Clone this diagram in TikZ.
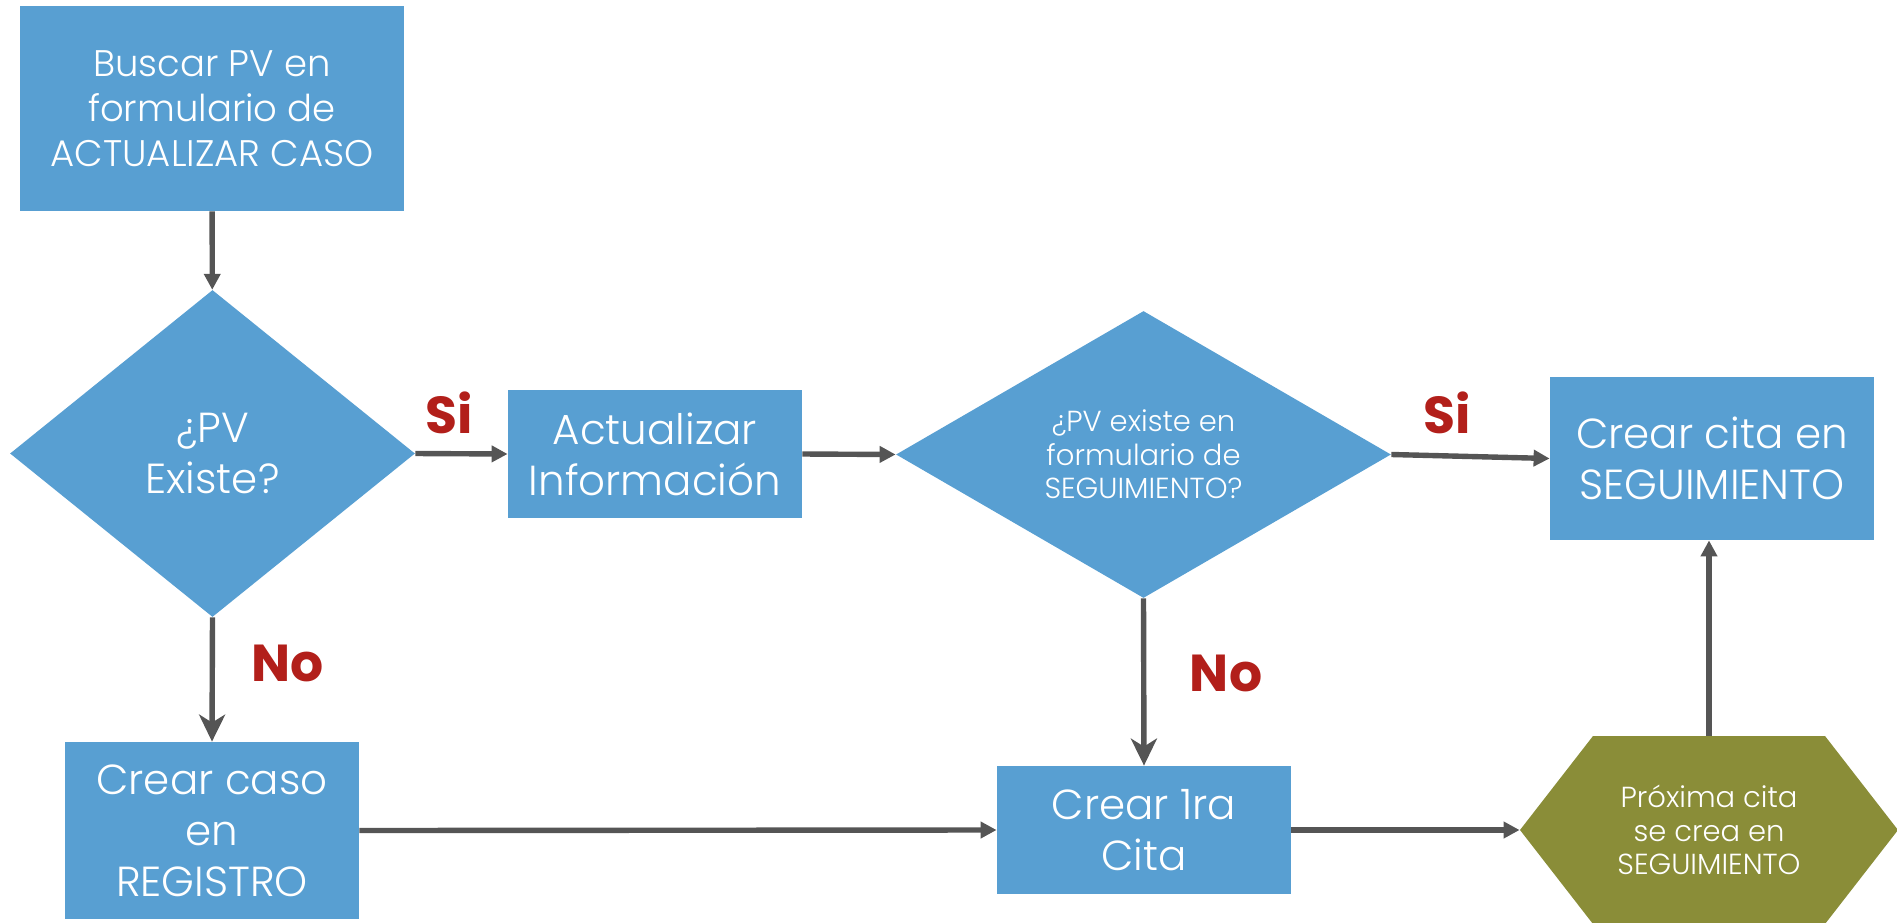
\documentclass[tikz,border=0pt]{standalone}
\usepackage{fontspec}
\newfontfamily\lblfont{Poppins}
\IfFontExistsTF{Poppins Light}{\setmainfont{Poppins Light}}{\setmainfont{Poppins}}
\usetikzlibrary{shapes.geometric,arrows.meta}
\definecolor{boxblue}{RGB}{88,159,210}
\definecolor{olive}{RGB}{138,141,56}
\definecolor{lblred}{RGB}{178,31,26}
\definecolor{arrgray}{RGB}{85,85,85}
\tikzset{
  blue box/.style={rectangle, fill=boxblue, text=white, align=center, inner sep=0pt},
  big text/.style={font=\fontsize{21}{25.5}\selectfont},
  mid text/.style={font=\fontsize{18.5}{22.5}\selectfont},
  small text/.style={font=\fontsize{14.5}{16.8}\selectfont},
  dec/.style={shape=diamond, fill=boxblue, text=white, align=center, inner sep=0pt},
  lbl/.style={text=lblred, font=\fontsize{26}{30}\selectfont\lblfont\bfseries},
  conn/.style={draw=arrgray, line width=2.7pt, -{Triangle[length=8pt,width=8pt]}},
  noconn/.style={draw=arrgray, line width=2.7pt, -{Stealth[length=13.5pt,width=13pt,inset=4pt]}}
}
\begin{document}
\begin{tikzpicture}[x=0.5pt,y=-0.5pt]
\useasboundingbox (0,0) rectangle (1897,922);
% nodes
\node[blue box, mid text, minimum width=192pt, minimum height=102.5pt] (b1) at (212,108.5)
  {Buscar PV en\\formulario de\\ACTUALIZAR CASO};
\node[dec, big text, aspect=1.24, minimum width=202.5pt, minimum height=163.5pt] (d1) at (212.5,453.5)
  {¿PV\\Existe?};
\node[blue box, big text, minimum width=147pt, minimum height=64pt] (b2) at (655,454)
  {Actualizar\\Información};
\node[dec, small text, aspect=1.72, minimum width=247.5pt, minimum height=143.5pt] (d2) at (1143.5,454.5)
  {¿PV existe en\\formulario de\\SEGUIMIENTO?};
\node[blue box, big text, minimum width=162pt, minimum height=81.5pt] (b3) at (1712,458.5)
  {Crear cita en\\SEGUIMIENTO};
\node[blue box, big text, minimum width=147pt, minimum height=88.5pt] (b4) at (212,830.5)
  {Crear caso\\en\\REGISTRO};
\node[blue box, big text, minimum width=147pt, minimum height=64pt] (b5) at (1144,830)
  {Crear 1ra\\Cita};
% hexagon
\fill[olive] (1520,830) -- (1593,736) -- (1825,736) -- (1898,830) -- (1825,924) -- (1593,924) -- cycle;
\node[text=white, small text, align=center, inner sep=0pt, minimum width=189pt, minimum height=94pt] (hx) at (1709,830)
  {Próxima cita\\se crea en\\SEGUIMIENTO};
% labels
\node[lbl] (s1) at (449,413) {Si};
\node[lbl] (s2) at (1447,413) {Si};
\node[lbl] (n1) at (288,663) {No};
\node[lbl] (n2) at (1226,673) {No};
% connectors
\draw[conn] (b1) -- (d1);
\draw[conn] (d1.east) -- (b2.west);
\draw[conn] (b2.east) -- (d2.west);
\draw[conn] (d2.east) -- (b3.west);
\draw[noconn] (d1.south) -- (b4.north);
\draw[noconn] (d2.south) -- (b5.north);
\draw[conn] (b4.east) -- (b5.west);
\draw[conn] (b5.east) -- (hx.west);
\draw[conn] (hx.north) -- (hx.north |- b3.south);
\end{tikzpicture}
\end{document}
